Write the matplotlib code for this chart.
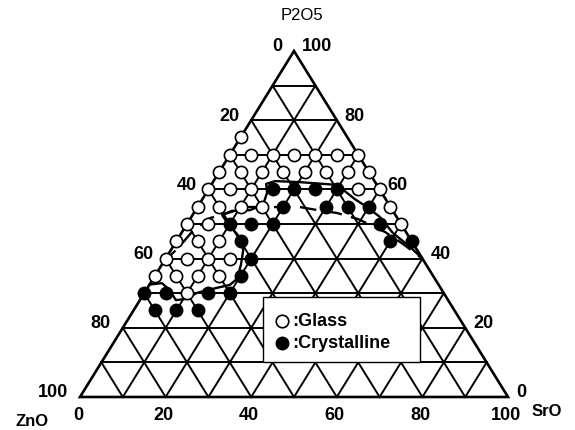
import matplotlib.pyplot as plt
from matplotlib.patches import Polygon, Rectangle
import numpy as np

plt.rcParams['font.family'] = ['Liberation Sans', 'DejaVu Sans']

W, H = 575, 430

# axis ticks (mol%)
tick_values = [0, 20, 40, 60, 80, 100]
grid_levels = [10, 20, 30, 40, 50, 60, 70, 80, 90]

# glass-forming compositions, SrO and P2O5 in mol% (rest is ZnO)
glass_sro = [0,
             0, 5, 10, 15, 20, 25, 30,
             0, 5, 10, 15, 20, 25, 30, 35,
             0, 5, 10, 35, 40,
             0, 5, 10, 15, 45,
             0, 5, 50,
             0, 5, 10,
             0, 5, 10, 15,
             0, 5, 10, 15,
             10]
glass_p2o5 = [75,
              70, 70, 70, 70, 70, 70, 70,
              65, 65, 65, 65, 65, 65, 65, 65,
              60, 60, 60, 60, 60,
              55, 55, 55, 55, 55,
              50, 50, 50,
              45, 45, 45,
              40, 40, 40, 40,
              35, 35, 35, 35,
              30]

# crystallized compositions
cryst_sro = [15, 20, 25, 30,
             20, 30, 35, 40,
             10, 15, 20, 45,
             15, 50, 55,
             20,
             20,
             0, 5, 15, 20,
             5, 10, 15]
cryst_p2o5 = [60, 60, 60, 60,
              55, 55, 55, 55,
              50, 50, 50, 50,
              45, 45, 45,
              40,
              35,
              30, 30, 30, 30,
              25, 25, 25]

# glass-forming boundary (solid) and second boundary (dashed)
boundary_sro = [0.0, 2.7, 5.5, 8.4, 10.4, 12.3, 15.2, 18.8, 19.6, 18.5, 16.9,
                13.5, 9.6, 6.9, 8.6, 12.7, 15.0, 14.2, 12.7, 14.4, 20.3, 29.4,
                35.6, 39.6, 44.1, 49.4, 55.4, 60.0]
boundary_p2o5 = [32.5, 32.9, 30.9, 28.0, 28.3, 30.1, 31.2, 32.4, 34.1, 38.2, 42.5,
                 46.8, 50.0, 52.6, 53.8, 54.0, 55.5, 59.0, 61.6, 62.4, 62.1, 61.3,
                 57.2, 54.9, 52.0, 47.4, 43.4, 40.0]
dashed_sro = [0.0, 1.4, 2.3, 4.5, 11.8, 23.9, 29.6, 33.4, 39.3, 47.4, 53.4, 59.5]
dashed_p2o5 = [39.0, 43.1, 47.7, 51.7, 54.9, 54.9, 53.8, 53.2, 51.4, 47.7, 44.2, 40.3]


def tern(sro, p2o5):
    s = np.asarray(sro, dtype=float)
    p = np.asarray(p2o5, dtype=float)
    return s + p / 2, p


fig = plt.figure(figsize=(W / 100, H / 100), dpi=100)
ax = fig.add_axes([0, 0, 1, 1])
ax.set_xlim(-18.69, 115.65)
ax.set_ylim(-9.54, 114.74)
ax.axis('off')

# grid lines parallel to the three sides
for v in grid_levels:
    for s0, p0, s1, p1 in [(0, v, 100 - v, v), (v, 0, v, 100 - v), (100 - v, 0, 0, 100 - v)]:
        x, y = tern([s0, s1], [p0, p1])
        ax.plot(x, y, color='black', lw=1.4, zorder=1)

ax.add_patch(Polygon([(0, 0), (100, 0), (50, 100)], closed=True, fill=False,
                     ec='black', lw=1.9, zorder=2))

# boundaries
x, y = tern(boundary_sro, boundary_p2o5)
ax.plot(x, y, color='black', lw=1.7, zorder=3)
x, y = tern(dashed_sro, dashed_p2o5)
ax.plot(x, y, color='black', lw=1.7, dashes=(7, 4), zorder=3)

x, y = tern(glass_sro, glass_p2o5)
ax.plot(x, y, 'o', ms=8.8, mfc='white', mec='black', mew=1.2, zorder=4)
x, y = tern(cryst_sro, cryst_p2o5)
ax.plot(x, y, 'o', ms=8.8, mfc='black', mec='black', mew=1.2, zorder=4)

lab = dict(fontsize=13, fontweight='bold', textcoords='offset pixels', annotation_clip=False)
for v in tick_values:
    # ZnO along the left side
    x, y = tern([0], [100 - v])
    ax.annotate(str(v), (x[0], y[0]), xytext=(-12, 4), ha='right', va='center', **lab)
    # P2O5 along the right side
    x, y = tern([100 - v], [v])
    ax.annotate(str(v), (x[0], y[0]), xytext=(8, 4), ha='left', va='center', **lab)
    # SrO along the base
    x, y = tern([v], [0])
    ax.annotate(str(v), (x[0], y[0]), xytext=(-2, -19), ha='center', va='center', **lab)

fig.text(302 / W, 1 - 15 / H, 'P2O5', fontsize=12, ha='center', va='center')
fig.text(547 / W, 1 - 412 / H, 'SrO', fontsize=12, fontweight='bold', ha='center', va='center')
fig.text(32 / W, 1 - 422 / H, 'ZnO', fontsize=12, fontweight='bold', ha='center', va='center')

# legend box
ax.add_patch(Rectangle((263 / W, 1 - 362 / H), (420 - 263) / W, (362 - 297) / H,
                       transform=fig.transFigure, fc='white', ec='black', lw=1.0, zorder=5))
ax.plot([282 / W], [1 - 321 / H], 'o', ms=9, mfc='white', mec='black', mew=1.2,
        transform=fig.transFigure, zorder=6)
ax.plot([282 / W], [1 - 343 / H], 'o', ms=9, mfc='black', mec='black',
        transform=fig.transFigure, zorder=6)
fig.text(292 / W, 1 - 321 / H, ':Glass', fontsize=13, fontweight='bold', va='center', zorder=7)
fig.text(292 / W, 1 - 343 / H, ':Crystalline', fontsize=13, fontweight='bold', va='center', zorder=7)

fig.savefig('out.png', dpi=100)
